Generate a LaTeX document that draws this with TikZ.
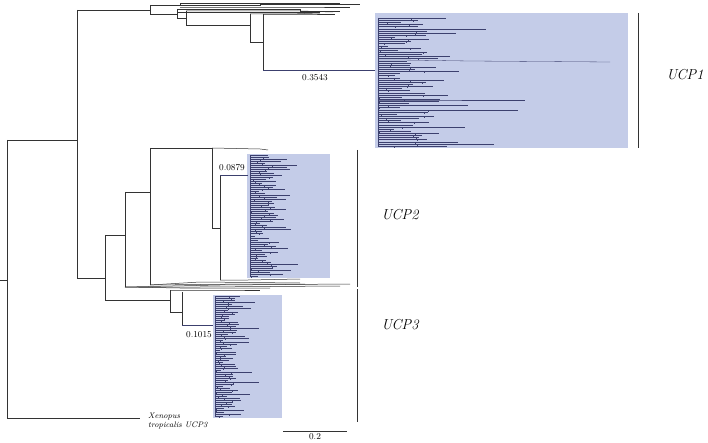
\documentclass[tikz,border=0pt]{standalone}
\usepackage{tikz}
\usetikzlibrary{positioning}
\definecolor{cladebox}{RGB}{196,204,232}
\definecolor{cladeline}{RGB}{60,64,110}
\tikzset{
  branch/.style={draw=black!80, line width=0.5pt},
  tipline/.style={draw=cladeline, line width=0.3pt},
  hilite/.style={draw=cladeline, line width=0.6pt},
  cladelabel/.style={font=\Large\itshape, anchor=west},
  lenlabel/.style={font=\small}
}
\newcommand{\tipcomb}[6]{% x0, ytop, ybottom, n, maxlen, seed
  \pgfmathsetseed{#6}
  \draw[tipline] (#1,#2) -- (#1,#3);
  \foreach \i in {0,...,#4}{
    \pgfmathsetmacro\yy{#2+(#3-#2)*\i/#4}
    \pgfmathsetmacro\xs{#1+rnd*#5*0.3}
    \pgfmathsetmacro\xe{\xs+rnd*rnd*#5*0.55+3}
    \draw[tipline] (#1,\yy) -- (\xs,\yy) -- ++(0,1.8) (\xs,\yy) -- (\xe,\yy);
  }
}
\begin{document}
\begin{tikzpicture}[x=1pt,y=-1pt]
\useasboundingbox (0,0) rectangle (708,443);
% clade boxes
\fill[cladebox] (375,13) rectangle (628,148);
\fill[cladebox] (247,154) rectangle (330,278);
\fill[cladebox] (213,295) rectangle (282,418);
% backbone
\draw[branch] (0,280) -- (7,280);
\draw[branch] (7,140) -- (7,418);
\draw[branch] (7,418) -- (140,418);
\draw[branch] (7,140) -- (77,140);
\draw[branch] (77,10) -- (77,278);
% top part
\draw[branch] (77,10) -- (150,10);
\draw[branch] (150,5) -- (150,14);
\draw[branch] (150,5) -- (180,5) -- (180,3) -- (340,3);
\draw[branch] (180,5) -- (260,5) -- (260,4) -- (360,4);
\draw[branch] (180,7) -- (300,7) -- (350,7);
\draw[branch] (150,14) -- (177,14);
\draw[branch] (177,9) -- (177,18);
\draw[branch] (177,9) -- (300,9) -- (300,11) -- (340,11);
\draw[branch] (177,12) -- (320,12);
\draw[branch] (177,18) -- (186,18);
\draw[branch] (186,11) -- (186,25);
\draw[branch] (186,11) -- (300,11) -- (333,12);
\draw[branch] (186,25) -- (250,25);
\draw[branch] (250,14) -- (250,42);
\draw[branch] (250,14) -- (290,14) -- (320,13);
\draw[branch] (250,42) -- (263,42);
\draw[branch] (263,14) -- (263,70);
\draw[branch] (263,14) -- (300,14) -- (335,14);
\draw[hilite] (263,70) -- (375,70);
\node[lenlabel] (lenA) at (315,78) {0.3543};
% lower part
\draw[branch] (77,278) -- (105,278);
\draw[branch] (105,235) -- (105,300);
\draw[branch] (105,235) -- (125,235);
\draw[branch] (125,192) -- (125,287);
\draw[branch] (125,192) -- (150,192);
\draw[branch] (150,148) -- (150,285);
\draw[branch] (150,148) -- (212,148);
\draw[branch] (212,148) -- (212,228);
\draw[branch] (212,148) -- (260,149) -- (268,150);
\draw[branch] (212,228) -- (220,228);
\draw[branch] (220,175) -- (220,280);
\draw[hilite] (220,175) -- (248,175);
\draw[branch] (220,280) -- (248,280) -- (300,279);
\node[lenlabel] (lenB) at (232,168) {0.0879};
\draw[branch] (150,285) -- (200,282) -- (300,283);
\draw[branch] (150,285) -- (250,284) -- (305,284);
\draw[branch] (125,287) -- (220,285) -- (350,284);
\draw[branch] (125,287) -- (200,287) -- (340,286);
\draw[branch] (125,287) -- (180,288) -- (270,288);
\draw[branch] (105,300) -- (170,300);
\draw[branch] (170,290) -- (170,312);
\draw[branch] (170,290) -- (230,290) -- (260,290);
\draw[branch] (170,312) -- (182,312);
\draw[branch] (182,292) -- (182,325);
\draw[hilite] (182,325) -- (213,325);
\node[lenlabel] (lenC) at (199,335) {0.1015};
% tips in boxes
\tipcomb{378}{18}{146}{60}{170}{11}
\draw[tipline] (378,60) -- (400,60) -- (470,61) -- (610,62);
\draw[tipline] (378,100) -- (400,100) -- (525,100);
\tipcomb{250}{155}{276}{60}{75}{23}
\tipcomb{215}{296}{416}{60}{60}{37}
% clade bars and labels
\draw[branch] (638,13) -- (638,148);
\draw[branch] (357,150) -- (357,287);
\draw[branch] (357,289) -- (357,422);
\node[cladelabel] (ucpA) at (663,75) {UCP1};
\node[cladelabel] (ucpB) at (378,215) {UCP2};
\node[cladelabel] (ucpC) at (378,325) {UCP3};
\node[font=\footnotesize\itshape, align=left, anchor=west, inner sep=0pt] (xen) at (148,421) {Xenopus\\tropicalis UCP3};
% scale bar
\draw[branch] (283,431) -- (347,431);
\node[lenlabel, inner sep=1pt] (scale) at (315,437) {0.2};
\end{tikzpicture}
\end{document}
